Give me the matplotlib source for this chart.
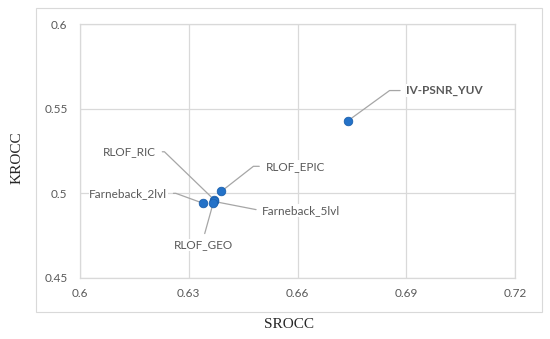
import math
import matplotlib.pyplot as plt
from matplotlib.patches import Rectangle

# Dados (SROCC x KROCC)
metodos = ["IV-PSNR_YUV", "RLOF_EPIC", "RLOF_RIC", "Farneback_2lvl", "Farneback_5lvl", "RLOF_GEO"]
srocc = [0.674, 0.639, 0.637, 0.634, 0.637, 0.6367]
krocc = [0.543, 0.5012, 0.4962, 0.4941, 0.4952, 0.4940]

x_ticks = [0.6, 0.63, 0.66, 0.69, 0.72]
y_ticks = [0.45, 0.5, 0.55, 0.6]

# posicao dos rotulos (deslocamento em pixels) e angulo da linha guia
rotulos = {
    "IV-PSNR_YUV":    dict(dx=58, dy=30, ha="left", va="center", ang=36, bold=True),
    "RLOF_EPIC":      dict(dx=44, dy=25, ha="left", va="center", ang=38, bold=False),
    "RLOF_RIC":       dict(dx=-58, dy=48, ha="right", va="center", ang=-44, bold=False),
    "Farneback_2lvl": dict(dx=-36, dy=10, ha="right", va="center", ang=-20, bold=False),
    "Farneback_5lvl": dict(dx=48, dy=-9, ha="left", va="center", ang=-11, bold=False),
    "RLOF_GEO":       dict(dx=-10, dy=-36, ha="center", va="top", ang=None, bold=False),
}

cinza_txt = "#595959"
cinza_grade = "#d9d9d9"

fig = plt.figure(figsize=(5.5, 3.39), dpi=100)
fig.patches.append(Rectangle((0.0655, 0.0796), 0.92, 0.8964, transform=fig.transFigure,
                             fill=False, edgecolor="#d9d9d9", linewidth=0.8))
ax = fig.add_axes([0.1455, 0.18, 0.7909, 0.749])

ax.scatter(srocc, krocc, s=38, color="#2472c8", edgecolors="#1b60ad", linewidths=0.6, zorder=3)

px = 72 / fig.dpi
for nome, x, y in zip(metodos, srocc, krocc):
    r = rotulos[nome]
    if r["ha"] == "left":
        relpos = (0, 0.5)
    elif r["ha"] == "right":
        relpos = (1, 0.5)
    else:
        relpos = (0.5, 1)
    if r["ang"] is None:
        cs = "arc3,rad=0"
    else:
        cs = "angle,angleA=0,angleB=%g,rad=0" % r["ang"]
    ax.annotate(nome, xy=(x, y), xytext=(r["dx"] * px, r["dy"] * px), textcoords="offset points",
                ha=r["ha"], va=r["va"], fontsize=8.5, family="Lato", color=cinza_txt,
                fontweight="bold" if r["bold"] else "normal",
                bbox=dict(boxstyle="square,pad=0.05", fc="white", ec="none"),
                arrowprops=dict(arrowstyle="-", color="#a6a6a6", lw=0.9, connectionstyle=cs,
                                relpos=relpos, shrinkA=4, shrinkB=3),
                zorder=2)

ax.set_xlim(0.6, 0.72)
ax.set_ylim(0.45, 0.6)
ax.set_xticks(x_ticks)
ax.set_xticklabels([("%g" % t) for t in x_ticks])
ax.set_yticks(y_ticks)
ax.set_yticklabels([("%g" % t) for t in y_ticks])
ax.grid(True, color=cinza_grade, linewidth=0.9)
ax.set_axisbelow(True)
for s in ax.spines.values():
    s.set_color(cinza_grade)
    s.set_linewidth(0.9)
ax.tick_params(length=0, labelsize=8.5, labelcolor=cinza_txt)
ax.tick_params(axis="x", pad=7)
ax.tick_params(axis="y", pad=9)
for lb in ax.get_xticklabels() + ax.get_yticklabels():
    lb.set_family("Lato")

# titulos dos eixos
fig.text(289 / 550, 1 - 325 / 339, "SROCC", family="Liberation Serif", fontsize=11,
         ha="center", va="center", color="#262626")
fig.text(17 / 550, 1 - 158 / 339, "KROCC", family="Liberation Serif", fontsize=11,
         ha="center", va="center", rotation=90, color="#262626")

fig.savefig("out.png", dpi=100)
